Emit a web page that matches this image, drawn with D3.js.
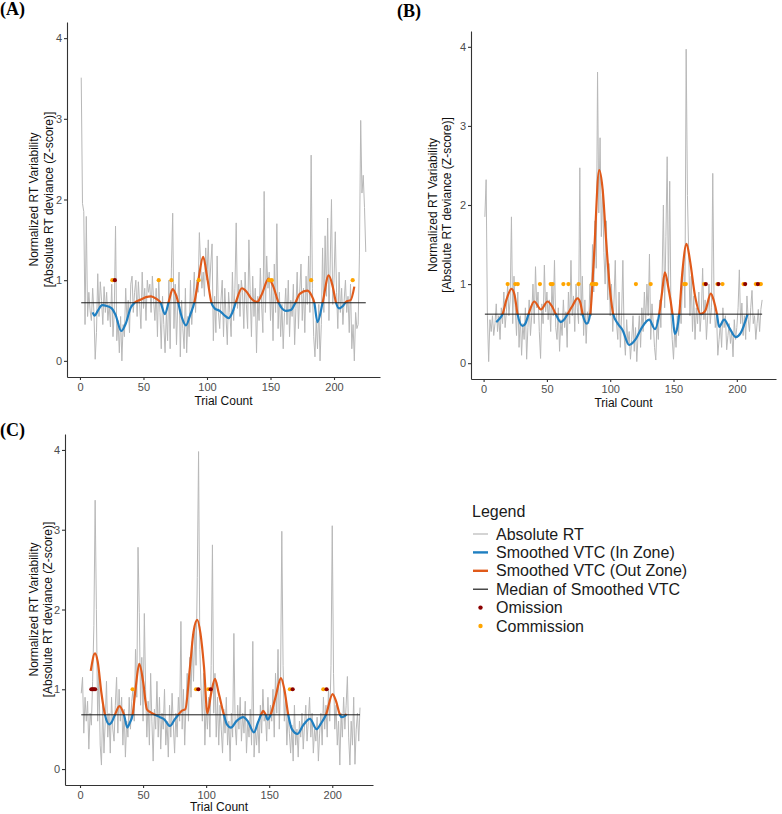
<!DOCTYPE html>
<html lang="en">
<head>
<meta charset="utf-8">
<title>VTC panels</title>
<style>
  body { margin: 0; background: #fff; }
  svg { display: block; font-family: Arial, "Liberation Sans", sans-serif; }
  .axis path, .axis line { stroke: #333; stroke-width: 1.1; }
  .axis text { fill: #4d4d4d; font-size: 11px; }
  .ytitle, .xtitle { fill: #111; font-size: 12px; }
  .plabel { font-family: "Liberation Serif", "Times New Roman", serif; font-weight: bold; font-size: 18px; fill: #000; }
  .legend text { font-size: 16px; fill: #1a1a1a; }
</style>
</head>
<body>
<div id="chart"></div>
<script src="https://d3js.org/d3.v7.min.js"></script>
<script>
// ---- data ----
var rtA = [
  3.51, 1.95, 1.85, 0.45, 1.79, 0.55, 0.85, 0.62, 0.5, 0.9,
  0.6, 0.02, 0.35, 1.08, 0.55, 0.98, 0.75, 0.45, 0.92, 0.6,
  0.85, 0.5, 0.7, 0.42, 0.95, 0.3, 0.6, 1.67, 0.25, 0.5,
  0.1, 0.55, 0.0, 0.45, 0.3, 0.9, 0.5, 0.75, 0.35, 0.95,
  1.05, 0.6, 0.85, 1.0, 0.55, 0.98, 0.7, 0.4, 1.1, 0.65,
  0.9, 0.5, 1.0, 0.85, 0.95, 0.6, 1.05, 0.75, 0.5, 0.9,
  0.3, 1.02, 0.6, 0.15, 0.8, 0.45, 0.1, 0.6, 0.25, 1.0,
  0.15, 1.15, 1.83, 0.4, 0.95, 0.2, 0.7, 1.1, 0.05, 0.75,
  0.4, 0.15, 0.9, 0.1, 0.55, 0.3, 1.0, 0.45, 0.75, 1.1,
  0.6, 1.0, 0.85, 1.59, 1.2, 0.9, 1.1, 0.8, 1.4, 1.0,
  1.5, 0.9, 1.2, 1.45, 0.25, 0.8, 0.35, 1.3, 0.6, 0.4,
  0.75, 1.0, 0.3, 0.9, 0.55, 0.2, 0.85, 0.6, 0.3, 1.1,
  0.5, 0.9, 1.71, 0.65, 0.95, 0.55, 1.0, 0.85, 0.4, 1.1,
  0.7, 0.4, 1.5, 0.85, 0.3, 1.05, 0.55, 0.9, 0.1, 0.8,
  0.5, 1.15, 0.7, 0.35, 2.1, 0.6, 1.3, 0.9, 1.1, 0.5,
  0.95, 0.25, 1.2, 0.6, 1.7, 0.4, 0.85, 0.3, 0.7, 0.15,
  0.6, 0.9, 0.45, 1.0, 0.3, 0.75, 0.55, 0.95, 0.2, 0.65,
  1.1, 0.4, 0.85, 1.2, 0.5, 0.9, 0.35, 1.05, 0.7, 1.3,
  0.6, 2.55, 0.9, 0.3, 0.05, 0.5, 0.15, 0.7, 0.0, 0.45,
  1.4, 0.6, 1.55, 0.8, 1.77, 0.5, 1.2, 2.0, 0.7, 1.0,
  1.6, 0.85, 0.4, 1.1, 0.6, 0.9, 0.45, 0.75, 1.0, 0.6,
  0.8, 0.35, 0.95, 0.15, 0.45, 0.0, 0.6, 0.4, 0.45, 1.3,
  2.98, 2.08, 2.3, 1.9, 1.35
];
var rtB = [
  1.85, 2.32, 0.6, 0.02, 0.55, 0.4, 0.6, 0.35, 0.5, 0.75,
  0.4, 0.6, 0.3, 0.7, 0.5, 0.9, 0.45, 0.65, 1.0, 0.6,
  0.8, 1.85, 0.5, 1.1, 0.7, 0.35, 0.9, 0.2, 0.6, 0.1,
  0.5, 0.3, 0.7, 0.05, 0.45, 0.8, 0.35, 0.6, 1.0, 0.5,
  1.22, 0.7, 0.9, 0.4, 0.06, 0.75, 0.5, 1.24, 0.65, 0.9,
  0.55, 0.8, 0.4, 1.0, 0.6, 1.3, 0.45, 0.3, 0.7, 0.15,
  0.55, 0.35, 0.8, 0.45, 0.65, 0.2, 0.9, 0.5, 1.3, 0.6,
  0.85, 0.4, 1.0, 0.7, 0.5, 2.47, 0.6, 1.1, 0.35, 0.8,
  0.25, 0.65, 0.5, 1.0, 0.6, 1.5, 0.9, 1.8, 1.2, 3.68,
  1.9, 2.85, 1.6, 2.2, 1.4, 1.0, 1.8, 0.8, 1.26, 0.6,
  1.0, 0.4, 0.8, 1.3, 0.5, 0.3, 0.9, 0.2, 0.6, 1.3,
  0.35, 0.1, 0.55, 0.25, 0.4, 0.05, 0.3, 0.6, 0.15, 0.45,
  0.02, 0.35, 0.6, 0.2, 0.7, 0.4, 0.9, 0.5, 1.0, 0.6,
  1.38, 0.3, 0.75, 0.5, 0.2, 0.04, 0.55, 0.3, 0.8, 0.45,
  1.1, 2.0, 0.7, 1.6, 2.61, 0.9, 2.3, 0.6, 0.3, 0.05,
  0.45, 0.2, 0.6, 0.35, 0.8, 0.5, 1.0, 1.3, 0.7, 3.97,
  2.12, 1.4, 0.6, 1.1, 0.4, 0.85, 0.3, 0.7, 0.5, 0.9,
  0.4, 0.65, 1.2, 0.55, 0.8, 0.3, 0.6, 1.0, 0.5, 0.7,
  2.4, 0.8, 0.45, 0.6, 0.1, 0.3, 0.5, 0.2, 0.7, 0.45,
  0.6, 0.17, 0.35, 0.5, 0.25, 0.4, 0.08, 0.55, 0.3, 0.45,
  0.7, 1.18, 0.5, 0.76, 0.35, 0.6, 0.3, 0.85, 0.55, 0.4,
  0.7, 0.92, 0.5, 0.6, 0.3, 0.5, 0.68, 0.4, 0.68, 0.8
];
var rtC = [
  0.95, 1.15, 0.45, 0.9, 0.6, 0.85, 0.25, 0.7, 0.55, 1.1,
  1.8, 3.37, 2.0, 0.6, 1.2, 0.3, 0.05, 0.8, 0.2, 0.6,
  1.1, 0.4, 0.7, 0.2, 0.9, 0.5, 0.35, 0.8, 1.15, 0.45,
  1.0, 0.6, 0.9, 0.3, 0.75, 0.15, 0.6, 0.4, 0.9, 0.5,
  0.85, 1.0, 0.6, 1.5, 0.9, 2.78, 1.96, 0.8, 1.4, 0.6,
  1.95, 1.0, 0.4, 0.85, 0.3, 1.2, 0.6, 0.1, 0.75, 0.5,
  1.1, 0.4, 0.9, 0.25, 0.7, 0.5, 1.0, 0.3, 0.6, 0.15,
  0.8, 0.4, 0.95, 0.55, 0.2, 0.7, 0.4, 0.9, 0.6, 1.85,
  0.5, 1.0, 0.3, 0.8, 1.2, 0.6, 1.4, 0.9, 1.6, 1.1,
  1.8, 1.3, 2.4, 3.98, 1.5, 1.0, 0.6, 1.2, 0.3, 0.8,
  0.5, 0.9, 0.4, 1.3, 2.81, 0.7, 1.2, 0.4, 0.9, 0.3,
  0.8, 0.5, 0.2, 0.75, 0.45, 0.9, 0.3, 0.6, 0.1, 0.7,
  0.4, 1.7, 0.55, 0.3, 0.8, 0.5, 0.9, 0.35, 0.7, 0.45,
  0.85, 0.2, 0.6, 0.4, 0.75, 0.3, 1.6, 0.15, 0.5, 0.3,
  0.6, 0.2, 0.8, 0.45, 1.0, 0.6, 0.7, 0.35, 0.9, 0.5,
  0.8, 0.6, 1.0, 0.4, 1.2, 0.7, 1.5, 0.5, 1.1, 2.98,
  1.3, 0.6, 0.9, 0.3, 0.7, 0.45, 0.2, 0.55, 0.1, 0.8,
  0.3, 0.5, 0.15, 0.6, 0.4, 0.7, 0.25, 0.55, 0.8, 0.35,
  0.6, 0.9, 0.4, 0.7, 0.2, 0.5, 0.35, 0.65, 0.1, 0.45,
  0.7, 0.3, 0.9, 0.5, 0.8, 0.4, 1.0, 0.6, 1.3, 3.05,
  1.2, 0.5, 0.8, 0.3, 0.6, 0.05, 0.7, 0.4, 0.9, 0.5,
  0.8, 1.16, 0.4, 0.05, 0.6, 0.3, 0.9, 0.06, 0.5, 0.7,
  0.35, 0.77
];

// smoothed VTC, [trial, value]
var vtcA = [[10,0.6],[11.5,0.56],[14,0.62],[17.5,0.69],[21,0.68],[25,0.65],[28,0.57],[32.5,0.37],[36,0.46],[40,0.66],
  [43,0.72],[48,0.76],[52,0.79],[56,0.8],[60,0.77],[63.5,0.72],[66.8,0.58],[70,0.74],[73,0.89],[76,0.8],
  [80,0.55],[83.4,0.44],[87,0.58],[90,0.72],[93,0.98],[97,1.29],[100,1.05],[103.5,0.72],[106,0.65],[110,0.62],
  [114,0.56],[117,0.53],[120,0.6],[123,0.74],[127.5,0.9],[131,0.86],[135,0.77],[139.5,0.73],[143,0.82],[148.5,1.02],
  [152,0.93],[156.4,0.72],[159,0.65],[162,0.62],[166,0.63],[169.6,0.72],[173,0.83],[179,0.87],[182,0.82],[184.5,0.72],
  [187,0.48],[191,0.72],[195.8,1.06],[199,0.92],[201.6,0.72],[204,0.65],[207,0.68],[210,0.74],[213,0.75],[216,0.92]];
var vtcB = [[10,0.52],[12.5,0.56],[15,0.62],[18,0.8],[22,0.94],[24.5,0.86],[26.8,0.62],[30.8,0.47],[33,0.5],[35.5,0.62],
  [40,0.78],[45.3,0.68],[50.5,0.78],[54,0.72],[57,0.62],[61,0.52],[64,0.56],[66.3,0.62],[70,0.72],[74.2,0.82],
  [76.5,0.76],[78.2,0.62],[81.6,0.5],[84.2,0.62],[87,1.3],[91.3,2.44],[94,2.2],[97,1.5],[100,0.9],[102.4,0.62],
  [106,0.5],[109.7,0.42],[115,0.23],[120,0.3],[125,0.45],[130.8,0.55],[135.3,0.43],[138.7,0.62],[141,0.9],[143.2,1.15],
  [146,0.95],[149.2,0.62],[151,0.37],[153,0.45],[154.5,0.62],[157,1.15],[160.3,1.51],[163,1.3],[167,0.85],[171.6,0.62],
  [175,0.66],[179.5,0.88],[182,0.78],[184.3,0.62],[186,0.46],[190,0.55],[194,0.45],[199.2,0.33],[203,0.38],[208.5,0.62]];
var vtcC = [[8.5,1.23],[11.9,1.45],[14,1.35],[17,0.95],[19.8,0.68],[23.2,0.56],[25.5,0.6],[27.7,0.68],[31.2,0.79],[34.9,0.68],
  [37.5,0.52],[39.5,0.58],[41.7,0.68],[44,1.0],[47,1.32],[50,1.1],[53,0.75],[56,0.71],[59.4,0.68],[63.4,0.65],
  [67,0.62],[71.3,0.54],[75,0.62],[77.9,0.68],[80.6,0.73],[83.5,0.75],[87.2,1.28],[90,1.72],[93,1.87],[95.5,1.7],
  [98.3,1.28],[101,0.7],[104,0.95],[107,1.13],[110,0.95],[114.1,0.68],[116.5,0.56],[119.7,0.52],[124,0.6],[129.5,0.65],
  [133,0.6],[137.9,0.46],[141,0.58],[143.5,0.68],[145.3,0.73],[147.2,0.68],[148.7,0.62],[151.1,0.68],[155,0.9],[159.3,1.14],
  [162,1.0],[165.1,0.68],[168,0.5],[172.5,0.44],[177,0.55],[182.3,0.63],[187.6,0.5],[191,0.57],[195,0.68],[200.3,0.94],
  [203,0.85],[206.1,0.68],[207.4,0.65],[209.5,0.66],[211.4,0.69]];

var medianA = 0.72, medianB = 0.62, medianC = 0.68;

// trials with errors (drawn at y = 1)
var commissionA = [25.5, 62, 72, 93.5, 149, 151, 182, 214.7];
var omissionA = [27.5];
var commissionB = [19, 25, 27, 44.5, 53, 54.5, 63, 67, 75, 85.5, 87.5, 89, 120.3, 132, 158.4, 159.7, 174.2, 184.7, 188.7, 205.3, 215, 218, 219];
var omissionB = [175.5, 185.5, 206.6, 216.6];
var commissionC = [41.7, 92, 101.7, 166.4, 192.9];
var omissionC = [9, 10, 11, 12, 93.8, 103.6, 168.6, 195.5];

var xTicks = [0, 50, 100, 150, 200];
var yTicks = [0, 1, 2, 3, 4];
var legendLabels = ['Absolute RT', 'Smoothed VTC (In Zone)', 'Smoothed VTC (Out Zone)', 'Median of Smoothed VTC', 'Omission', 'Commission'];

// ---- styling / layout ----
var colGray = '#b8b8b8', colIn = '#1f7fc1', colOut = '#e05a1a', colMed = '#1a1a1a', colOm = '#8b0000', colCom = '#ffa500';

var panels = [
  { id: 'A', label: '(A)', lx: 0, ly: 15, rt: rtA, vtc: vtcA, med: medianA, com: commissionA, om: omissionA,
    left: 67, right: 380, top: 22, bottom: 377, xdom: [-10.2, 236.2], t1: 37.5, t2: 52.5, xt: 405 },
  { id: 'B', label: '(B)', lx: 397, ly: 17, rt: rtB, vtc: vtcB, med: medianB, com: commissionB, om: omissionB,
    left: 471, right: 776, top: 31, bottom: 379, xdom: [-9.95, 230.95], t1: 437, t2: 451, xt: 407 },
  { id: 'C', label: '(C)', lx: 0, ly: 436, rt: rtC, vtc: vtcC, med: medianC, com: commissionC, om: omissionC,
    left: 65, right: 373, top: 434, bottom: 785, xdom: [-11.9, 232.3], t1: 37.5, t2: 52, xt: 811 }
];

var svg = d3.select('#chart').append('svg')
  .attr('width', 782).attr('height', 814);

panels.forEach(function(p) {
  var x = d3.scaleLinear().domain(p.xdom).range([p.left, p.right]);
  var y = d3.scaleLinear().domain([-0.2, 4.2]).range([p.bottom, p.top]);
  var g = svg.append('g');

  // clip regions above / below the median
  var ym = y(p.med);
  svg.append('clipPath').attr('id', 'above' + p.id).append('rect')
    .attr('x', p.left).attr('y', p.top).attr('width', p.right - p.left).attr('height', ym - p.top);
  svg.append('clipPath').attr('id', 'below' + p.id).append('rect')
    .attr('x', p.left).attr('y', ym).attr('width', p.right - p.left).attr('height', p.bottom - ym);

  var rtLine = d3.line()
    .x(function(d, i) { return x(i + 1); })
    .y(function(d) { return y(d); });
  g.append('path').datum(p.rt)
    .attr('d', rtLine).attr('fill', 'none').attr('stroke', colGray).attr('stroke-width', 1);

  var smooth = d3.line()
    .curve(d3.curveMonotoneX)
    .x(function(d) { return x(d[0]); })
    .y(function(d) { return y(d[1]); });
  g.append('path').datum(p.vtc).attr('d', smooth).attr('fill', 'none')
    .attr('stroke', colIn).attr('stroke-width', 2.2).attr('clip-path', 'url(#below' + p.id + ')');
  g.append('path').datum(p.vtc).attr('d', smooth).attr('fill', 'none')
    .attr('stroke', colOut).attr('stroke-width', 2.2).attr('clip-path', 'url(#above' + p.id + ')');

  g.append('line')
    .attr('x1', x(1)).attr('x2', x(p.rt.length))
    .attr('y1', ym).attr('y2', ym)
    .attr('stroke', colMed).attr('stroke-width', 1);

  g.selectAll('.com').data(p.com).enter().append('circle')
    .attr('cx', function(d) { return x(d); }).attr('cy', y(1)).attr('r', 2.1).attr('fill', colCom);
  g.selectAll('.om').data(p.om).enter().append('circle')
    .attr('cx', function(d) { return x(d); }).attr('cy', y(1)).attr('r', 2.1).attr('fill', colOm);

  // axes
  svg.append('g').attr('class', 'axis')
    .attr('transform', 'translate(0,' + p.bottom + ')')
    .call(d3.axisBottom(x).tickValues(xTicks).tickFormat(d3.format('d')).tickSize(3).tickSizeOuter(0).tickPadding(3));
  svg.append('g').attr('class', 'axis')
    .attr('transform', 'translate(' + p.left + ',0)')
    .call(d3.axisLeft(y).tickValues(yTicks).tickFormat(d3.format('d')).tickSize(3).tickSizeOuter(0).tickPadding(2));

  var cy = (p.top + p.bottom) / 2;
  svg.append('text').attr('class', 'ytitle').attr('text-anchor', 'middle')
    .attr('transform', 'translate(' + p.t1 + ',' + cy + ') rotate(-90)')
    .text('Normalized RT Variability');
  svg.append('text').attr('class', 'ytitle').attr('text-anchor', 'middle')
    .attr('transform', 'translate(' + p.t2 + ',' + cy + ') rotate(-90)')
    .text('[Absolute RT deviance (Z-score)]');
  svg.append('text').attr('class', 'xtitle').attr('text-anchor', 'middle')
    .attr('x', (p.left + p.right) / 2).attr('y', p.xt)
    .text('Trial Count');

  svg.append('text').attr('class', 'plabel')
    .attr('x', p.lx).attr('y', p.ly).text(p.label);
});

// legend
var lg = svg.append('g').attr('class', 'legend').attr('transform', 'translate(472,0)');
lg.append('text').attr('x', 0).attr('y', 517).text('Legend');
var keyStyle = [
  { type: 'line', color: colGray, w: 1.2 },
  { type: 'line', color: colIn, w: 2.4 },
  { type: 'line', color: colOut, w: 2.4 },
  { type: 'line', color: colMed, w: 1.2 },
  { type: 'dot', color: colOm },
  { type: 'dot', color: colCom }
];
var rowY = d3.scaleLinear().domain([0, 5]).range([534, 626]);
legendLabels.forEach(function(lab, i) {
  var k = keyStyle[i], cy = rowY(i);
  if (k.type === 'line') {
    lg.append('line').attr('x1', 1).attr('x2', 16).attr('y1', cy).attr('y2', cy)
      .attr('stroke', k.color).attr('stroke-width', k.w);
  } else {
    lg.append('circle').attr('cx', 8.5).attr('cy', cy).attr('r', 2.2).attr('fill', k.color);
  }
  lg.append('text').attr('x', 24).attr('y', cy + 5.6).text(lab);
});
</script>
</body>
</html>
